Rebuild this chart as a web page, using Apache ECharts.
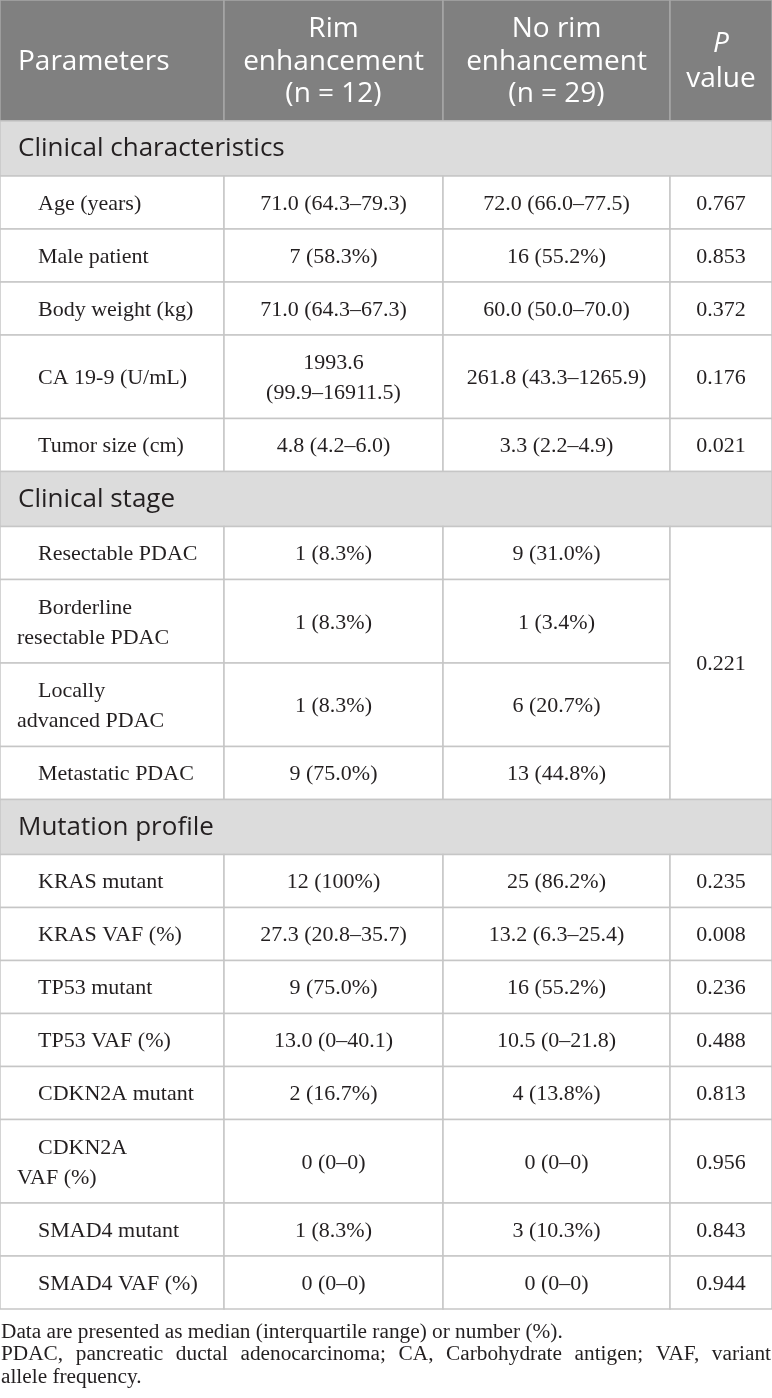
<!DOCTYPE html>
<html>
<head>
<meta charset="utf-8">
<script src="https://cdn.jsdelivr.net/npm/echarts@6/dist/echarts.min.js"></script>
<style>
  html, body { margin: 0; padding: 0; background: #fff; }
  #main { width: 772px; height: 1398px; }
</style>
</head>
<body>
<div id="main"></div>
<script>
// table content
const headers = [
    ['Parameters'],
    ['Rim', 'enhancement', '(n = 12)'],
    ['No rim', 'enhancement', '(n = 29)'],
    ['P', 'value']
];
const italicHead = ['P'];
const sections = ['Clinical characteristics', 'Clinical stage', 'Mutation profile'];
const sectionSize = [5, 4, 8];
const params = [
    'Age (years)', 'Male patient', 'Body weight (kg)', 'CA 19-9 (U/mL)', 'Tumor size (cm)',
    'Resectable PDAC', 'Borderline\nresectable PDAC', 'Locally\nadvanced PDAC', 'Metastatic PDAC',
    'KRAS mutant', 'KRAS VAF (%)', 'TP53 mutant', 'TP53 VAF (%)',
    'CDKN2A mutant', 'CDKN2A\nVAF (%)', 'SMAD4 mutant', 'SMAD4 VAF (%)'
];
const rimValues = [
    '71.0 (64.3–79.3)', '7 (58.3%)', '71.0 (64.3–67.3)', '1993.6\n(99.9–16911.5)', '4.8 (4.2–6.0)',
    '1 (8.3%)', '1 (8.3%)', '1 (8.3%)', '9 (75.0%)',
    '12 (100%)', '27.3 (20.8–35.7)', '9 (75.0%)', '13.0 (0–40.1)',
    '2 (16.7%)', '0 (0–0)', '1 (8.3%)', '0 (0–0)'
];
const noRimValues = [
    '72.0 (66.0–77.5)', '16 (55.2%)', '60.0 (50.0–70.0)', '261.8 (43.3–1265.9)', '3.3 (2.2–4.9)',
    '9 (31.0%)', '1 (3.4%)', '6 (20.7%)', '13 (44.8%)',
    '25 (86.2%)', '13.2 (6.3–25.4)', '16 (55.2%)', '10.5 (0–21.8)',
    '4 (13.8%)', '0 (0–0)', '3 (10.3%)', '0 (0–0)'
];
// '' = merged with the p value cell above
const pValues = [
    '0.767', '0.853', '0.372', '0.176', '0.021',
    '0.221', '', '', '',
    '0.235', '0.008', '0.236', '0.488',
    '0.813', '0.956', '0.843', '0.944'
];
const footLines = [
    'Data are presented as median (interquartile range) or number (%).',
    'PDAC, pancreatic ductal adenocarcinoma; CA, Carbohydrate antigen; VAF, variant',
    'allele frequency.'
];
const footJustify = [false, true, false];

// layout
const W = 772, H = 1398;
const colX = [0, 224, 443, 670, 772];
const headH = 121, secH = 55, rowH = 53, row2H = 83.5;
const serif = '"Liberation Serif", "Times New Roman", serif';
const sans = '"Open Sans", "Noto Sans", sans-serif';
const bodyFont = '22px ' + serif;
const footFont = '21.3px ' + serif;

const measure = document.createElement('canvas').getContext('2d');
measure.font = footFont;

let cells = [];
headers.forEach((lines, c) => {
    cells.push({ x0: colX[c], x1: colX[c + 1], y0: 0, y1: headH, kind: 'head', col: c, lines: lines });
});

let y = headH;
let r = 0;
sections.forEach((name, s) => {
    cells.push({ x0: 0, x1: W, y0: y, y1: y + secH, kind: 'sec', col: 0, lines: [name] });
    y += secH;
    let rowTops = [];
    for (let k = 0; k < sectionSize[s]; k++) {
        const i = r + k;
        const tall = params[i].includes('\n') || rimValues[i].includes('\n') || noRimValues[i].includes('\n');
        const h = tall ? row2H : rowH;
        rowTops.push([y, y + h]);
        cells.push({ x0: colX[0], x1: colX[1], y0: y, y1: y + h, kind: 'body', col: 0, lines: params[i].split('\n') });
        cells.push({ x0: colX[1], x1: colX[2], y0: y, y1: y + h, kind: 'body', col: 1, lines: rimValues[i].split('\n') });
        cells.push({ x0: colX[2], x1: colX[3], y0: y, y1: y + h, kind: 'body', col: 2, lines: noRimValues[i].split('\n') });
        y += h;
    }
    // p value cells, merged where the value is blank
    for (let k = 0; k < sectionSize[s]; k++) {
        const i = r + k;
        if (pValues[i] === '') continue;
        let end = k;
        while (end + 1 < sectionSize[s] && pValues[r + end + 1] === '') end++;
        cells.push({ x0: colX[3], x1: colX[4], y0: rowTops[k][0], y1: rowTops[end][1], kind: 'body', col: 3, lines: [pValues[i]] });
    }
    r += sectionSize[s];
});

const tableBottom = y;
footLines.forEach((t, i) => {
    const yc = tableBottom + 23 + i * 22.5;
    cells.push({ x0: 0, x1: W, y0: yc - 10, y1: yc + 10, kind: 'note', col: 0, lines: [t], justify: footJustify[i] });
});

function textEl(x, y, text, font, fill, align) {
    return {
        type: 'text', x: x, y: y,
        style: { text: text, font: font, fill: fill, align: align, textAlign: align, verticalAlign: 'middle', textVerticalAlign: 'middle' }
    };
}

function renderItem(params, api) {
    const c = cells[api.value(4)];
    const p0 = api.coord([api.value(0), api.value(1)]);
    const p1 = api.coord([api.value(2), api.value(3)]);
    const cx = (p0[0] + p1[0]) / 2, cy = (p0[1] + p1[1]) / 2;
    const children = [];

    if (c.kind === 'note') {
        if (!c.justify) {
            children.push(textEl(p0[0] + 1, cy, c.lines[0], footFont, '#231f20', 'left'));
        } else {
            const words = c.lines[0].split(' ');
            const widths = words.map(w => measure.measureText(w).width);
            const total = widths.reduce((a, b) => a + b, 0);
            const gap = (p1[0] - p0[0] - 2 - total) / (words.length - 1);
            let x = p0[0] + 1;
            words.forEach((w, k) => {
                children.push(textEl(x, cy, w, footFont, '#231f20', 'left'));
                x += widths[k] + gap;
            });
        }
        return { type: 'group', children: children };
    }

    let fill = '#ffffff', stroke = '#c6c6c6', color = '#231f20', font = bodyFont, pitch = 30, dy = 1.5;
    if (c.kind === 'head') {
        fill = '#808080'; stroke = '#a6a6a6'; color = '#ffffff'; font = '28px ' + sans;
        pitch = c.lines.length === 2 ? 35 : 32.5; dy = 1.5;
    } else if (c.kind === 'sec') {
        fill = '#dcdcdc'; color = '#231f20'; font = '26px ' + sans; dy = 0.5;
    }
    children.push({
        type: 'rect',
        shape: { x: p0[0], y: p0[1], width: p1[0] - p0[0], height: p1[1] - p0[1] },
        style: { fill: fill, stroke: stroke, lineWidth: 1.5 }
    });
    const n = c.lines.length;
    c.lines.forEach((t, k) => {
        const ty = cy + dy + (k - (n - 1) / 2) * pitch;
        let f = font;
        if (c.kind === 'head' && italicHead.includes(t)) f = 'italic ' + font;
        if (c.col === 0) {
            let tx = p0[0] + 18;
            if (c.kind === 'body') tx = p0[0] + (k === 0 ? 38 : 17);
            children.push(textEl(tx, ty, t, f, color, 'left'));
        } else {
            children.push(textEl(cx, ty, t, f, color, 'center'));
        }
    });
    return { type: 'group', children: children };
}

let mychart = echarts.init(document.getElementById('main'));
let options = {
    animation: false,
    grid: { left: 0, right: 0, top: 0, bottom: 0 },
    xAxis: { type: 'value', min: 0, max: W, show: false },
    yAxis: { type: 'value', min: 0, max: H, inverse: true, show: false },
    series: [{
        type: 'custom',
        coordinateSystem: 'cartesian2d',
        clip: false,
        silent: true,
        encode: { x: [0, 2], y: [1, 3] },
        data: cells.map((c, i) => [c.x0, c.y0, c.x1, c.y1, i]),
        renderItem: renderItem
    }]
};
mychart.setOption(options);
</script>
</body>
</html>
